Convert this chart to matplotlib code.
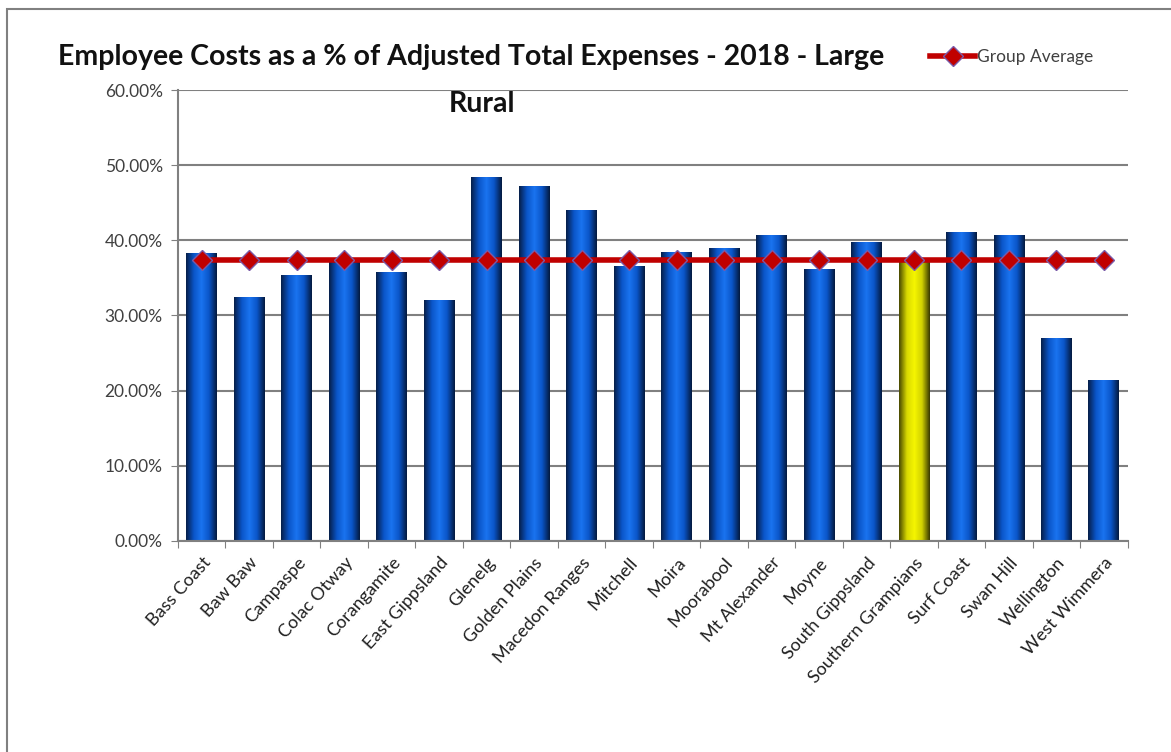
import numpy as np
import matplotlib
matplotlib.use('Agg')
import matplotlib.pyplot as plt
from matplotlib.colors import LinearSegmentedColormap
from matplotlib.patches import Rectangle

councils = ['Bass Coast', 'Baw Baw', 'Campaspe', 'Colac Otway', 'Corangamite', 'East Gippsland',
            'Glenelg', 'Golden Plains', 'Macedon Ranges', 'Mitchell', 'Moira', 'Moorabool',
            'Mt Alexander', 'Moyne', 'South Gippsland', 'Southern Grampians', 'Surf Coast',
            'Swan Hill', 'Wellington', 'West Wimmera']
employee_pct = [38.3, 32.4, 35.4, 37.3, 35.8, 32.0, 48.4, 47.3, 44.0, 36.6,
                38.4, 39.0, 40.7, 36.2, 39.8, 37.4, 41.1, 40.7, 27.0, 21.4]
group_avg = [37.4] * len(councils)
highlight = 'Southern Grampians'

plt.rcParams['font.family'] = ['Lato', 'DejaVu Sans']

fig = plt.figure(figsize=(11.71, 7.52), dpi=100)
ax = fig.add_axes([0.152, 0.281, 0.811, 0.599])

# outer frame like the pasted chart object
fig.patches.append(Rectangle((0.006, -0.1), 1.1, 1.088, transform=fig.transFigure,
                             fill=False, edgecolor='#808080', linewidth=1.5))

blue_map = LinearSegmentedColormap.from_list('b', ['#061f4a', '#0a55c8', '#1a74f0', '#0a55c8', '#041a40'])
yellow_map = LinearSegmentedColormap.from_list('y', ['#4a4a00', '#d8d800', '#f6f600', '#d0d000', '#3a3a00'])
grad = np.linspace(0, 1, 64).reshape(1, -1)

x = np.arange(len(councils))
bars = ax.bar(x, employee_pct, width=0.65, color='#0a5fd8', edgecolor='none', zorder=2)
for name, b in zip(councils, bars):
    cmap = yellow_map if name == highlight else blue_map
    im = ax.imshow(grad, cmap=cmap, aspect='auto', zorder=2.5,
                   extent=[b.get_x(), b.get_x() + b.get_width(), 0, b.get_height()])
    im.set_clip_path(b)

ax.plot(x, group_avg, color='#c00000', linewidth=4, marker='D', markersize=10,
        markerfacecolor='#c00000', markeredgecolor='#7a5aa8', markeredgewidth=1,
        zorder=4, label='Group Average')

ax.set_xlim(-0.5, len(councils) - 0.5)
ax.set_ylim(0, 60)
ax.set_yticks(np.arange(0, 61, 10))
ax.set_yticklabels([f'{v:.2f}%' for v in np.arange(0, 61, 10)], fontsize=12.5, color='#404040')
ax.set_xticks(np.arange(-0.5, len(councils), 1), minor=False)
ax.set_xticklabels([])
ax.set_xticks(x, minor=True)
ax.set_xticklabels(councils, minor=True, rotation=48, ha='right', rotation_mode='anchor',
                   fontsize=13, color='#202020')
ax.tick_params(axis='x', which='minor', length=0, pad=10)
ax.tick_params(axis='x', which='major', length=5, color='#808080', direction='out')
ax.tick_params(axis='y', length=5, color='#808080', direction='out', pad=6)

ax.grid(axis='y', color='#808080', linewidth=1.5, zorder=0)
ax.set_axisbelow(True)
for s in ['top', 'right']:
    ax.spines[s].set_visible(False)
for s in ['left', 'bottom']:
    ax.spines[s].set_color('#808080')
    ax.spines[s].set_linewidth(1.5)

fig.text(0.402, 0.924, 'Employee Costs as a % of Adjusted Total Expenses - 2018 - Large',
         ha='center', va='center', fontsize=20.5, fontweight='bold', color='#111111')
fig.text(0.412, 0.862, 'Rural', ha='center', va='center', fontsize=20.5,
         fontweight='bold', color='#111111')

leg = fig.legend(loc='center left', bbox_to_anchor=(0.787, 0.924), frameon=False,
                 fontsize=12.5, handlelength=2.6, handletextpad=0.1, borderpad=0)
for t in leg.get_texts():
    t.set_color('#404040')

fig.savefig('out.png', dpi=100)
